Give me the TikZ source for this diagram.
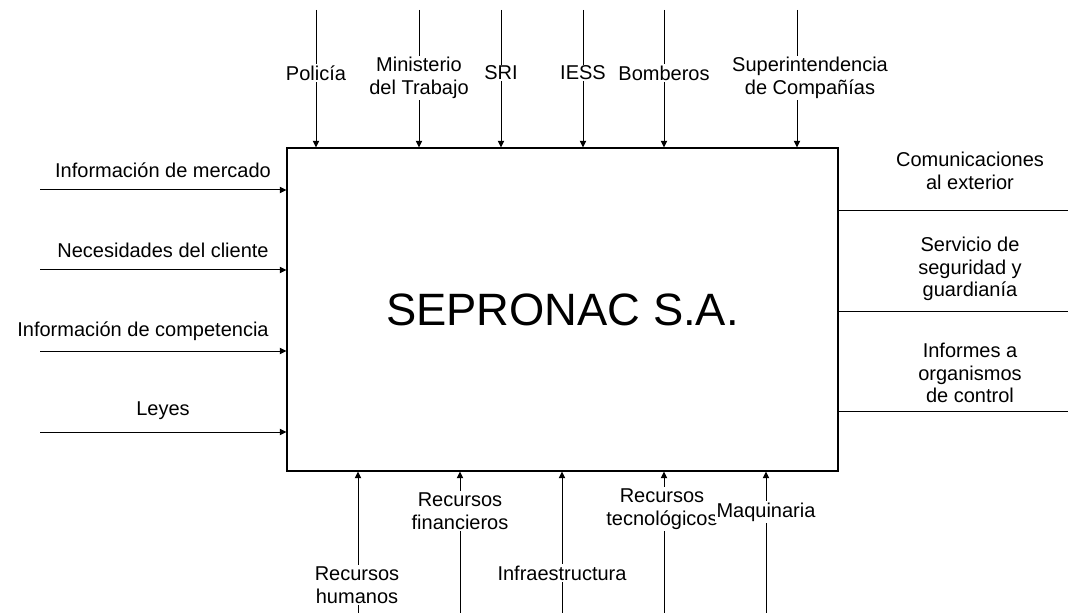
\documentclass[tikz,border=0pt]{standalone}
\usepackage{fontspec}
\setmainfont{Liberation Sans}
\usetikzlibrary{arrows.meta}
\begin{document}
\begin{tikzpicture}[x=0.75pt,y=-0.75pt,
  lbl/.style={font=\fontsize{15}{17.1}\selectfont, align=center, fill=white, inner sep=1pt},
  arr/.style={-{Triangle[length=5pt,width=4.8pt]}, line width=0.75pt},
  ln/.style={line width=0.75pt},
  mainbox/.style={draw, line width=0.8pt, minimum width=413.25pt, minimum height=242.25pt, inner sep=0pt, font=\fontsize{34}{40}\selectfont}]
\useasboundingbox (0,0) rectangle (1068,613);
\node[mainbox] (box) at (562.5,309.5) {SEPRONAC S.A.};
% top controls
\coordinate (t1) at (316,10);
\coordinate (t2) at (419,10);
\coordinate (t3) at (501,10);
\coordinate (t4) at (583,10);
\coordinate (t5) at (664,10);
\coordinate (t6) at (797,10);
\foreach \i in {1,...,6} {\draw[arr] (t\i) -- (t\i |- box.north);}
% left inputs
\coordinate (l1) at (40,190);
\coordinate (l2) at (40,270);
\coordinate (l3) at (40,351);
\coordinate (l4) at (40,432);
\foreach \i in {1,...,4} {\draw[arr] (l\i) -- (l\i -| box.west);}
% right outputs
\coordinate (r1) at (1068,211);
\coordinate (r2) at (1068,311);
\coordinate (r3) at (1068,411);
\foreach \i in {1,...,3} {\draw[ln] (r\i -| box.east) -- (r\i);}
% bottom mechanisms
\coordinate (b1) at (358,613);
\coordinate (b2) at (460,613);
\coordinate (b3) at (562,613);
\coordinate (b4) at (664,613);
\coordinate (b5) at (766,613);
\foreach \i in {1,...,5} {\draw[arr] (b\i) -- (b\i |- box.south);}
% top labels
\node[lbl] (lt1) at (316,73) {Policía};
\node[lbl] (lt2) at (419,78) {Ministerio\\del Trabajo};
\node[lbl] (lt3) at (501,73) {SRI};
\node[lbl] (lt4) at (583,73) {IESS};
\node[lbl] (lt5) at (664,73) {Bomberos};
\node[lbl] (lt6) at (810,78) {Superintendencia\\de Compañías};
% left labels
\node[lbl] (ll1) at (163,170) {Información de mercado};
\node[lbl] (ll2) at (163,250) {Necesidades del cliente};
\node[lbl] (ll3) at (143,331) {Información de competencia};
\node[lbl] (ll4) at (163,411) {Leyes};
% right labels
\node[lbl] (lr1) at (970,171) {Comunicaciones\\al exterior};
\node[lbl] (lr2) at (970,269) {Servicio de\\seguridad y\\guardianía};
\node[lbl] (lr3) at (970,373) {Informes a\\organismos\\de control};
% bottom labels
\node[lbl] (lb1) at (357,585) {Recursos\\humanos};
\node[lbl] (lb2) at (460,511) {Recursos\\financieros};
\node[lbl] (lb3) at (562,573) {Infraestructura};
\node[lbl] (lb4) at (662,509) {Recursos\\tecnológicos};
\node[lbl] (lb5) at (766,512) {Maquinaria};
\end{tikzpicture}
\end{document}
